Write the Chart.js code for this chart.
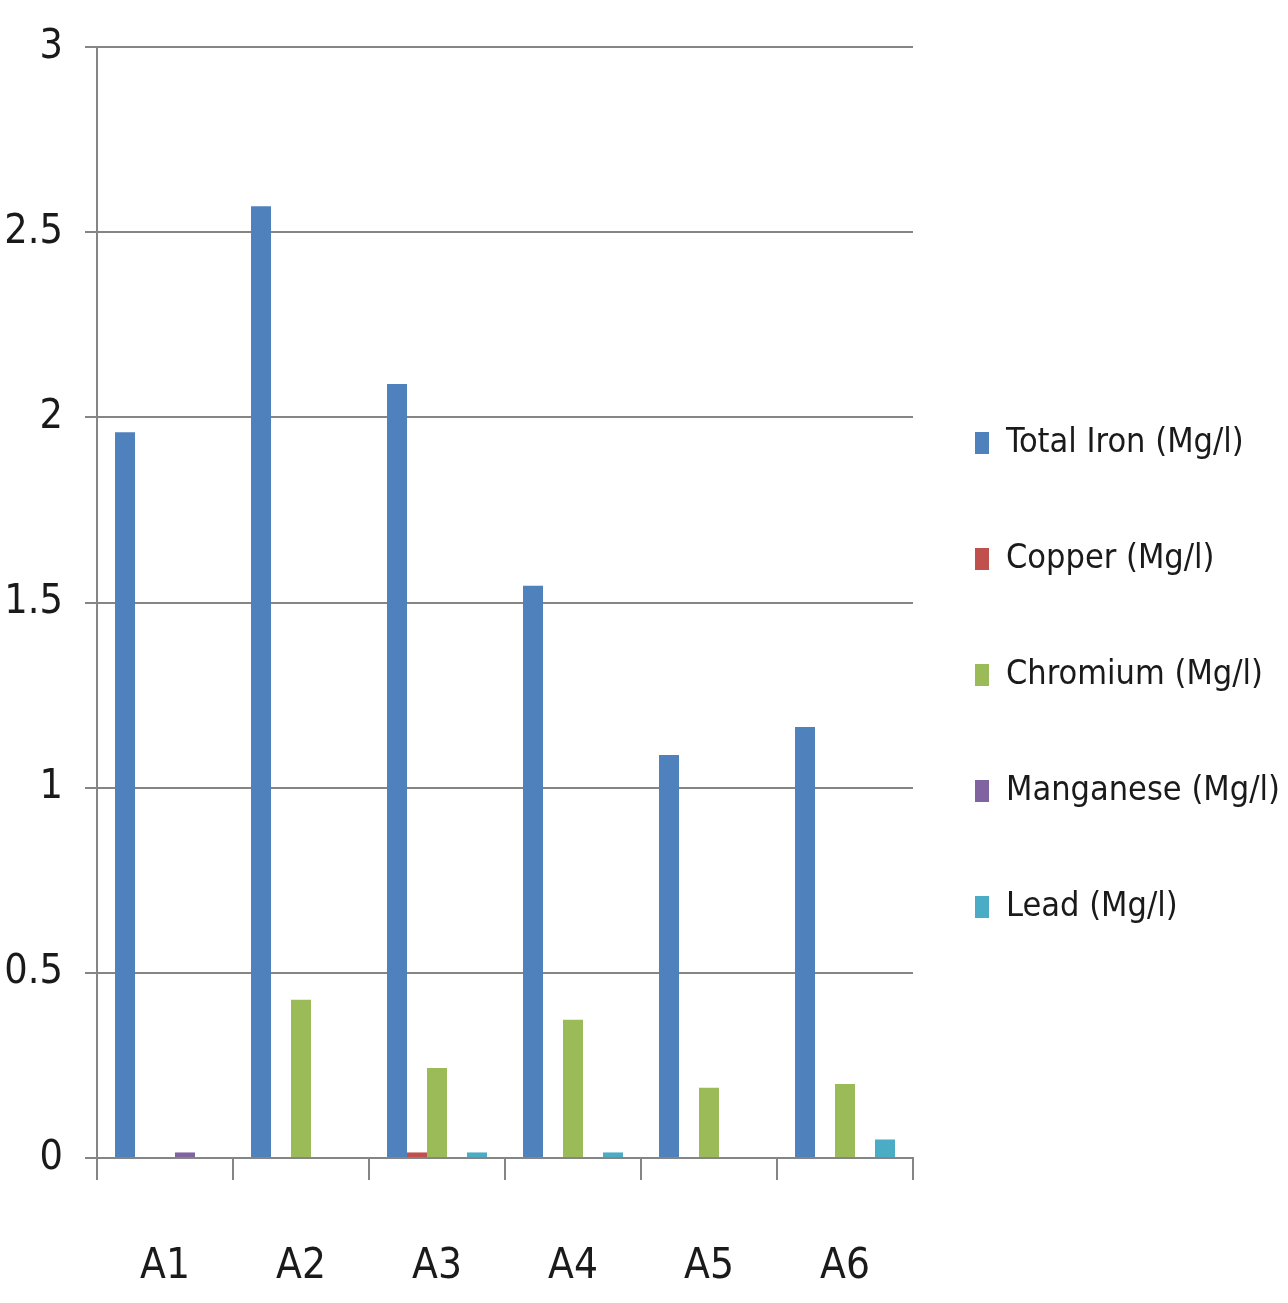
<!DOCTYPE html>
<html>
<head>
<meta charset="utf-8">
<script src="https://cdn.jsdelivr.net/npm/chart.js@4/dist/chart.umd.min.js"></script>
<style>
html,body{margin:0;padding:0;background:#fff;}
#wrap{width:1288px;height:1303px;position:relative;}
</style>
</head>
<body>
<div id="wrap"><canvas id="c" width="1288" height="1303"></canvas></div>
<script>
const categories = ["A1","A2","A3","A4","A5","A6"];
const totalIron = [1.96, 2.57, 2.09, 1.545, 1.088, 1.164];
const copper    = [0, 0, 0.015, 0, 0, 0];
const chromium  = [0, 0.427, 0.243, 0.373, 0.19, 0.20];
const manganese = [0.015, 0, 0, 0, 0, 0];
const lead      = [0, 0, 0.015, 0.015, 0, 0.05];
const seriesNames = ["Total Iron (Mg/l)","Copper (Mg/l)","Chromium (Mg/l)","Manganese (Mg/l)","Lead (Mg/l)"];
const yTicks = [0, 0.5, 1, 1.5, 2, 2.5, 3];

const colors = ["#4F81BD","#C0504D","#9BBB59","#8064A2","#4BACC6"];
const seriesData = [totalIron, copper, chromium, manganese, lead];
const FONT = "'DejaVu Sans Condensed','Liberation Sans Narrow','Liberation Sans',sans-serif";

const legendShift = {
  id: 'legendShift',
  afterLayout(chart) {
    const lg = chart.legend;
    if (lg) { lg.left -= 20; lg.right = chart.width; }
  }
};

new Chart(document.getElementById('c'), {
  type: 'bar',
  data: {
    labels: categories,
    datasets: seriesData.map((d,i)=>({
      label: seriesNames[i],
      data: d,
      backgroundColor: colors[i],
      borderWidth: 0,
      categoryPercentage: 0.735,
      barPercentage: 1.0
    }))
  },
  plugins: [legendShift],
  options: {
    responsive: false,
    animation: false,
    layout: { padding: { top: 47, left: 0, right: 0, bottom: 0 } },
    plugins: {
      tooltip: { enabled: false },
      legend: {
        position: 'right',
        maxWidth: 375,
        labels: {
          boxWidth: 14,
          boxHeight: 22,
          padding: 82,
          color: '#1a1a1a',
          font: { family: FONT, size: 34 }
        }
      }
    },
    scales: {
      x: {
        grid: { display: true, drawOnChartArea: false, drawTicks: true, tickLength: 22, offset: true, color: '#858585', lineWidth: 2 },
        border: { display: true, color: '#858585', width: 2 },
        ticks: { color: '#1a1a1a', padding: 62, font: { family: FONT, size: 42 } },
        afterFit: (s) => { s.height = 145; }
      },
      y: {
        min: 0, max: 3,
        afterBuildTicks: (s) => { s.ticks = yTicks.map(v=>({value:v})); },
        grid: { color: '#858585', lineWidth: 2, tickLength: 12 },
        border: { display: true, color: '#858585', width: 2 },
        ticks: { color: '#1a1a1a', padding: 22, font: { family: FONT, size: 41 },
                 callback: (v) => String(v) },
        afterFit: (s) => { s.width = 97; }
      }
    }
  }
});
</script>
</body>
</html>
